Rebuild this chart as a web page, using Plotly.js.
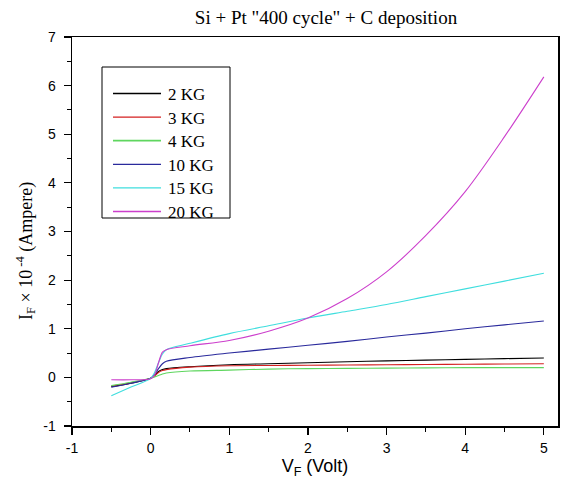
<!DOCTYPE html>
<html>
<head>
<meta charset="utf-8">
<script src="https://cdn.plot.ly/plotly-3.0.1.min.js"></script>
<style>html,body{margin:0;padding:0;background:#fff;}#chart{width:562px;height:490px;}</style>
</head>
<body>
<div id="chart"></div>
<script>
// Voltage samples (Volt)
const vF = [-0.5, -0.25, 0, 0.05, 0.1, 0.15, 0.2, 0.5, 1, 1.5, 2, 2.5, 3, 3.5, 4, 4.5, 5];

// Current (x 10^-4 A) per magnetic field
const i2KG  = [-0.19, -0.12, -0.02, 0.04, 0.12, 0.16, 0.18, 0.22, 0.26, 0.28, 0.30, 0.32, 0.34, 0.355, 0.37, 0.385, 0.40];
const i3KG  = [-0.18, -0.11, -0.02, 0.03, 0.10, 0.14, 0.16, 0.21, 0.24, 0.245, 0.25, 0.255, 0.26, 0.265, 0.27, 0.275, 0.28];
const i4KG  = [-0.17, -0.10, -0.02, 0.01, 0.04, 0.07, 0.09, 0.13, 0.15, 0.17, 0.18, 0.185, 0.19, 0.195, 0.20, 0.20, 0.20];
const i10KG = [-0.20, -0.12, -0.02, 0.06, 0.18, 0.28, 0.33, 0.41, 0.50, 0.58, 0.66, 0.74, 0.83, 0.91, 1.00, 1.08, 1.16];
const i15KG = [-0.38, -0.20, -0.02, 0.10, 0.30, 0.48, 0.57, 0.70, 0.90, 1.06, 1.22, 1.36, 1.50, 1.66, 1.82, 1.98, 2.14];
const i20KG = [-0.05, -0.05, -0.03, 0.05, 0.30, 0.52, 0.57, 0.65, 0.76, 0.95, 1.22, 1.62, 2.17, 2.92, 3.82, 4.95, 6.18];

const seriesNames  = ["2 KG", "3 KG", "4 KG", "10 KG", "15 KG", "20 KG"];
const seriesValues = [i2KG, i3KG, i4KG, i10KG, i15KG, i20KG];
const seriesColors = ["#000000", "#d42020", "#5fd65f", "#2a2a9c", "#3fdede", "#cc3fcc"];

const xTicks = [-1, 0, 1, 2, 3, 4, 5];
const yTicks = [-1, 0, 1, 2, 3, 4, 5, 6, 7];

// ---- layout geometry (pixels) ----
const W = 562, H = 490;
const M = {l: 72, r: 4, t: 37, b: 64};
const PW = W - M.l - M.r, PH = H - M.t - M.b;
const px2x = p => (p - M.l) / PW;
const px2y = p => (H - M.b - p) / PH;

const traces = seriesNames.map((n, k) => ({
  x: vF, y: seriesValues[k], name: n, type: 'scatter', mode: 'lines',
  line: {color: seriesColors[k], width: 1.1, shape: 'spline', smoothing: 0.9},
  showlegend: false
}));

const serif = 'Liberation Serif, Times New Roman, serif';
const sans = 'Liberation Sans, Arial, sans-serif';

const axisCommon = {
  showgrid: false, zeroline: false, showline: true, linecolor: '#000', linewidth: 1.5,
  mirror: true, ticks: 'outside', ticklen: 7, tickwidth: 1.2, tickcolor: '#000',
  tickfont: {family: sans, size: 14, color: '#000'},
  minor: {ticks: 'outside', ticklen: 4, tickwidth: 1, tickcolor: '#000', dtick: 0.5}
};

// manual legend (box, sample lines, labels)
const legBox = {x0: 102, x1: 230, y0: 67, y1: 218};
const legLine = {x0: 113, x1: 161, y0: 93.5, dy: 23.6};
const legTextX = 166;

const shapes = [{
  type: 'rect', xref: 'paper', yref: 'paper',
  x0: px2x(legBox.x0), x1: px2x(legBox.x1), y0: px2y(legBox.y1), y1: px2y(legBox.y0),
  line: {color: '#000', width: 1}, fillcolor: '#fff', layer: 'above'
}];
const annotations = [];
seriesNames.forEach((n, k) => {
  const yy = legLine.y0 + k * legLine.dy;
  shapes.push({type: 'line', xref: 'paper', yref: 'paper',
    x0: px2x(legLine.x0), x1: px2x(legLine.x1), y0: px2y(yy), y1: px2y(yy),
    line: {color: seriesColors[k], width: k === 2 ? 1.7 : 1.3}, layer: 'above'});
  annotations.push({text: n, xref: 'paper', yref: 'paper', x: px2x(legTextX), y: px2y(yy + 1),
    xanchor: 'left', yanchor: 'middle', showarrow: false,
    font: {family: serif, size: 17, color: '#000'}});
});
// y-axis title
annotations.push({text: 'I<sub>F</sub> × 10<sup> -4</sup> (Ampere)', xref: 'paper', yref: 'paper',
  x: px2x(25), y: px2y(251), xanchor: 'center', yanchor: 'middle', textangle: -90, showarrow: false,
  font: {family: serif, size: 18, color: '#000'}});

const layout = {
  width: W, height: H,
  margin: M,
  paper_bgcolor: '#fff', plot_bgcolor: '#fff',
  title: {text: 'Si + Pt "400 cycle" + C deposition', x: 326 / W, xanchor: 'center', y: 1 - 17 / H, yanchor: 'middle',
          font: {family: serif, size: 19, color: '#000'}},
  xaxis: Object.assign({}, axisCommon, {
    range: [-1, 5.18], tickvals: xTicks, ticktext: xTicks.map(String),
    ticklabelstandoff: 2,
    title: {text: 'V<sub>F</sub> (Volt)', standoff: 2,
            font: {family: sans, size: 18, color: '#000'}}
  }),
  yaxis: Object.assign({}, axisCommon, {
    range: [-1, 7], tickvals: yTicks, ticktext: yTicks.map(String),
    ticklabelstandoff: 5
  }),
  showlegend: false,
  shapes: shapes,
  annotations: annotations
};

Plotly.newPlot('chart', traces, layout, {displayModeBar: false, staticPlot: true});
</script>
</body>
</html>
